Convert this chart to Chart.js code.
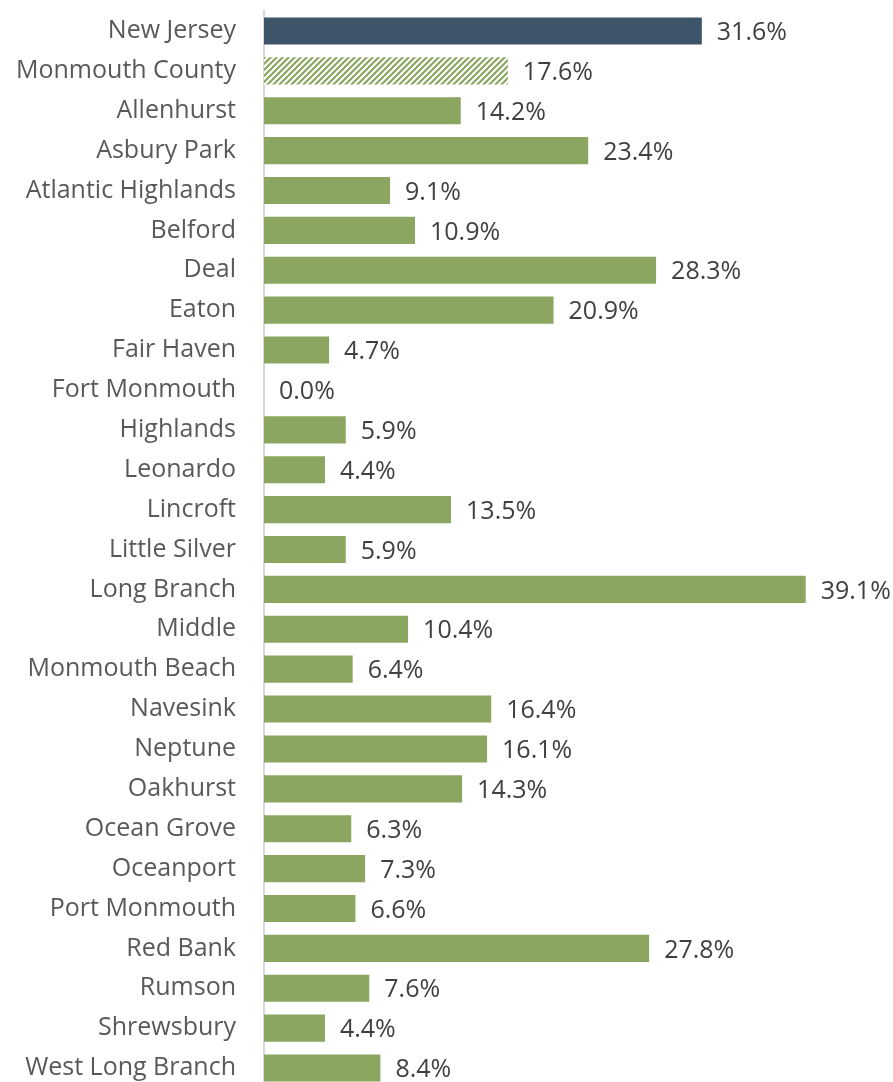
<!DOCTYPE html>
<html>
<head>
<meta charset="utf-8">
<script src="https://cdn.jsdelivr.net/npm/chart.js@4"></script>
<style>
  html, body { margin: 0; padding: 0; background: #fff; overflow: hidden; }
  #wrap { position: relative; width: 893px; height: 1163px; margin-top: -32px; }
</style>
</head>
<body>
<div id="wrap"><canvas id="barCanvas"></canvas></div>
<script>
// Share of population, by place
const places = [
  'New Jersey', 'Monmouth County', 'Allenhurst', 'Asbury Park', 'Atlantic Highlands',
  'Belford', 'Deal', 'Eaton', 'Fair Haven', 'Fort Monmouth', 'Highlands', 'Leonardo',
  'Lincroft', 'Little Silver', 'Long Branch', 'Middle', 'Monmouth Beach', 'Navesink',
  'Neptune', 'Oakhurst', 'Ocean Grove', 'Oceanport', 'Port Monmouth', 'Red Bank',
  'Rumson', 'Shrewsbury', 'West Long Branch'
];
const shares = [
  31.6, 17.6, 14.2, 23.4, 9.1,
  10.9, 28.3, 20.9, 4.7, 0.0, 5.9, 4.4,
  13.5, 5.9, 39.1, 10.4, 6.4, 16.4,
  16.1, 14.3, 6.3, 7.3, 6.6, 27.8,
  7.6, 4.4, 8.4
];

const STATE_COLOR = '#3e5569';
const PLACE_COLOR = '#8ba660';
const FONT = '"Open Sans", sans-serif';

// diagonal stripe fill for the county bar
function stripePattern(color) {
  const tile = document.createElement('canvas');
  tile.width = 6; tile.height = 6;
  const c = tile.getContext('2d');
  c.fillStyle = '#fff';
  c.fillRect(0, 0, 6, 6);
  c.strokeStyle = color;
  c.lineWidth = 2.2;
  c.beginPath();
  c.moveTo(-3, 9); c.lineTo(9, -3);
  c.moveTo(-3, 3); c.lineTo(3, -3);
  c.moveTo(3, 9); c.lineTo(9, 3);
  c.stroke();
  return c.createPattern(tile, 'repeat');
}

const fills = places.map((p, i) => {
  if (i === 0) return STATE_COLOR;
  if (i === 1) return stripePattern(PLACE_COLOR);
  return PLACE_COLOR;
});

// value labels to the right of each bar
const valueLabels = {
  id: 'valueLabels',
  afterDatasetsDraw(chart) {
    const ctx = chart.ctx;
    const meta = chart.getDatasetMeta(0);
    ctx.save();
    ctx.font = '25px ' + FONT;
    ctx.fillStyle = '#404040';
    ctx.textAlign = 'left';
    ctx.textBaseline = 'middle';
    meta.data.forEach((bar, i) => {
      ctx.fillText(shares[i].toFixed(1) + '%', bar.x + 15, bar.y + 2);
    });
    ctx.restore();
  }
};

new Chart(document.getElementById('barCanvas'), {
  type: 'bar',
  data: {
    labels: places,
    datasets: [{
      data: shares,
      backgroundColor: fills,
      borderWidth: 0,
      barPercentage: 0.68,
      categoryPercentage: 1.0
    }]
  },
  options: {
    indexAxis: 'y',
    responsive: true,
    maintainAspectRatio: false,
    animation: false,
    layout: { padding: { top: 8, right: 0, bottom: 0, left: 0 } },
    plugins: {
      legend: { display: false },
      tooltip: { enabled: false }
    },
    scales: {
      x: {
        display: false,
        min: 0,
        max: 45.4
      },
      y: {
        afterFit(scale) { scale.width = 264; },
        grid: { display: false, drawTicks: false },
        border: { display: true, color: '#d9d9d9', width: 2 },
        ticks: {
          padding: 28,
          color: '#595959',
          font: { family: FONT, size: 25 }
        }
      }
    }
  },
  plugins: [valueLabels]
});
</script>
</body>
</html>
